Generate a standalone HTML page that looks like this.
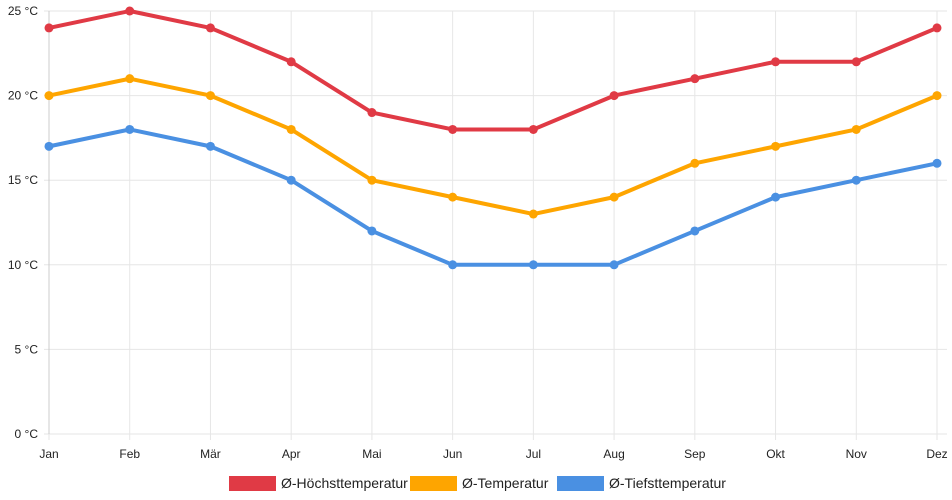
<!DOCTYPE html>
<html><head><meta charset="utf-8">
<style>
html,body{margin:0;padding:0;background:#fff;}
svg{display:block;font-family:"Liberation Sans",sans-serif;}
</style></head>
<body>
<svg id="chart" width="952" height="500" xmlns="http://www.w3.org/2000/svg"></svg>
<script>
const months=["Jan","Feb","Mär","Apr","Mai","Jun","Jul","Aug","Sep","Okt","Nov","Dez"];
const highTemps=[24,25,24,22,19,18,18,20,21,22,22,24];
const meanTemps=[20,21,20,18,15,14,13,14,16,17,18,20];
const lowTemps=[17,18,17,15,12,10,10,10,12,14,15,16];
const yTicks=[0,5,10,15,20,25];
const seriesNames=["Ø-Höchsttemperatur","Ø-Temperatur","Ø-Tiefsttemperatur"];

const svg=document.getElementById('chart');
const NS="http://www.w3.org/2000/svg";
const x0=49,x1=937,y0=434,y1=11;
const xs=i=>x0+i*(x1-x0)/(months.length-1);
const ys=v=>y0-(v/25)*(y0-y1);
function mk(t,a){const e=document.createElementNS(NS,t);for(const k in a)e.setAttribute(k,a[k]);svg.appendChild(e);return e;}

yTicks.forEach(t=>{
  const l=mk('line',{x1:x0-5,x2:x1+10,y1:ys(t),y2:ys(t),stroke:'#e6e6e6','stroke-width':1});
  
  
  const tx=mk('text',{x:38,y:ys(t)+4,'text-anchor':'end','font-size':12,fill:'#222'});
  tx.textContent=t+' °C';
  
  
});
months.forEach((m,i)=>{
  const l=mk('line',{x1:xs(i),x2:xs(i),y1:y1,y2:y0+6,stroke:'#e6e6e6','stroke-width':1});
  
  
  const tx=mk('text',{x:xs(i),y:458,'text-anchor':'middle','font-size':12,fill:'#222'});
  tx.textContent=m;
  
  
});
const ax=mk('line',{x1:x0,x2:x0,y1:y1,y2:y0,stroke:'#ccc'});



const series=[[highTemps,'#e03a45','high'],[meanTemps,'#fea500','mean'],[lowTemps,'#4a90e2','low']];
series.forEach(([d,c,n])=>{
  const p=mk('polyline',{points:d.map((v,i)=>xs(i)+','+ys(v)).join(' '),fill:'none',stroke:c,'stroke-width':4,'stroke-linejoin':'round'});
  
  
  d.forEach((v,i)=>{
    const ci=mk('circle',{cx:xs(i),cy:ys(v),r:4.5,fill:c});
    
    
  });
});

const legX=[229,410,557];
series.forEach(([d,c,n],k)=>{
  const r=mk('rect',{x:legX[k],y:476,width:47,height:15,fill:c});
  
  
  const t=mk('text',{x:legX[k]+52,y:488,'font-size':14,fill:'#222'});
  t.textContent=seriesNames[k];
  
  
});
</script>
</body></html>
